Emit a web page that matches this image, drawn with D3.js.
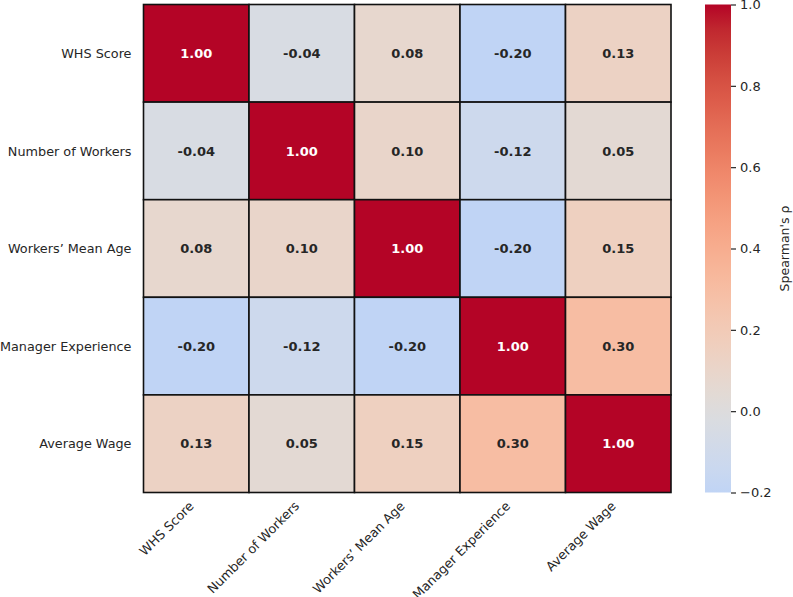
<!DOCTYPE html>
<html>
<head>
<meta charset="utf-8">
<script src="https://cdn.jsdelivr.net/npm/d3@7"></script>
<style>
  body { margin: 0; background: #fff; }
  text { font-family: "DejaVu Sans", sans-serif; fill: #262626; }
</style>
</head>
<body>
<div id="chart"></div>
<script>
// --- data ---
const labels = ["WHS Score", "Number of Workers", "Workers\u2019 Mean Age", "Manager Experience", "Average Wage"];
const rowWHS      = [1.00, -0.04, 0.08, -0.20, 0.13];
const rowWorkers  = [-0.04, 1.00, 0.10, -0.12, 0.05];
const rowMeanAge  = [0.08, 0.10, 1.00, -0.20, 0.15];
const rowManager  = [-0.20, -0.12, -0.20, 1.00, 0.30];
const rowWage     = [0.13, 0.05, 0.15, 0.30, 1.00];
const matrix = [rowWHS, rowWorkers, rowMeanAge, rowManager, rowWage];
const cbarTicks = [-0.2, 0.0, 0.2, 0.4, 0.6, 0.8, 1.0];
const cbarLabel = "Spearman's \u03c1";

// matplotlib coolwarm samples (0..1)
const coolwarm = [
  [59,76,192],[68,90,204],[77,104,215],[87,117,225],[98,130,234],[108,142,241],
  [119,154,247],[130,165,251],[141,176,254],[152,185,255],[163,194,255],[174,201,253],
  [184,208,249],[194,213,244],[204,217,238],[213,219,230],[221,221,221],[229,216,209],
  [236,211,197],[241,204,185],[245,196,173],[247,187,160],[247,177,148],[247,166,135],
  [244,154,123],[241,141,111],[236,127,99],[229,112,88],[222,96,77],[213,80,66],
  [203,62,56],[192,40,47],[180,4,38]
].map(c => d3.rgb(c[0], c[1], c[2]).toString());
// centred at 0, so the map spans -1..1
const cmap = d3.scaleLinear()
  .domain(d3.range(coolwarm.length).map(i => -1 + 2 * i / (coolwarm.length - 1)))
  .range(coolwarm)
  .interpolate(d3.interpolateRgb)
  .clamp(true);

const W = 793, H = 597;
const m = { left: 143.5, top: 4.5, right: 671, bottom: 492.5 };

const svg = d3.select("#chart").append("svg").attr("width", W).attr("height", H);

const x = d3.scaleBand().domain(labels).range([m.left, m.right]);
const y = d3.scaleBand().domain(labels).range([m.top, m.bottom]);

const cells = [];
matrix.forEach((row, i) => row.forEach((v, j) => cells.push({ r: labels[i], c: labels[j], v })));

svg.append("g").selectAll("rect").data(cells).join("rect")
  .attr("x", d => x(d.c)).attr("y", d => y(d.r))
  .attr("width", x.bandwidth()).attr("height", y.bandwidth())
  .attr("fill", d => cmap(d.v))
  .attr("stroke", "#111").attr("stroke-width", 1.6);

svg.append("g").selectAll("text").data(cells).join("text")
  .attr("x", d => x(d.c) + x.bandwidth() / 2)
  .attr("y", d => y(d.r) + y.bandwidth() / 2)
  .attr("text-anchor", "middle").attr("dy", "0.36em")
  .style("font-size", "13px").style("font-weight", "bold")
  .style("fill", d => d.v > 0.6 ? "#fff" : "#262626")
  .text(d => d.v.toFixed(2));

// y axis labels
svg.append("g").selectAll("text").data(labels).join("text")
  .attr("x", m.left - 12)
  .attr("y", d => y(d) + y.bandwidth() / 2)
  .attr("text-anchor", "end").attr("dy", "0.36em")
  .style("font-size", "12.8px")
  .text(d => d);

// x axis labels, rotated 45deg
svg.append("g").selectAll("text").data(labels).join("text")
  .attr("transform", d => `translate(${x(d) + x.bandwidth() / 2 - 8},${m.bottom + 8}) rotate(-45)`)
  .attr("text-anchor", "end").attr("dy", "0.7em")
  .style("font-size", "12.8px")
  .text(d => d);

// colorbar
const cb = { x: 705, w: 26 };
const cy = d3.scaleLinear().domain([-0.2, 1.0]).range([m.bottom, m.top]);
const grad = svg.append("defs").append("linearGradient")
  .attr("id", "cbGrad").attr("x1", "0%").attr("y1", "100%").attr("x2", "0%").attr("y2", "0%");
d3.range(0, 1.0001, 0.05).forEach(t => {
  grad.append("stop").attr("offset", `${t * 100}%`).attr("stop-color", cmap(-0.2 + 1.2 * t));
});
svg.append("rect")
  .attr("x", cb.x).attr("y", m.top)
  .attr("width", cb.w).attr("height", m.bottom - m.top)
  .attr("fill", "url(#cbGrad)");

const cAxis = svg.append("g")
  .attr("transform", `translate(${cb.x + cb.w},0)`)
  .call(d3.axisRight(cy).tickValues(cbarTicks).tickSize(5).tickPadding(4)
    .tickFormat(d => (+d).toFixed(1).replace("-", "\u2212")));
cAxis.select(".domain").remove();
cAxis.selectAll("line").attr("stroke", "#262626").attr("stroke-width", 1.2);
cAxis.selectAll("text").style("font-size", "13px").style("font-family", "DejaVu Sans").attr("fill", "#262626");

svg.append("text")
  .attr("transform", `translate(780,${(m.top + m.bottom) / 2}) rotate(-90)`)
  .attr("text-anchor", "middle").attr("dy", "0.75em")
  .style("font-size", "12.5px")
  .text(cbarLabel);
</script>
</body>
</html>
